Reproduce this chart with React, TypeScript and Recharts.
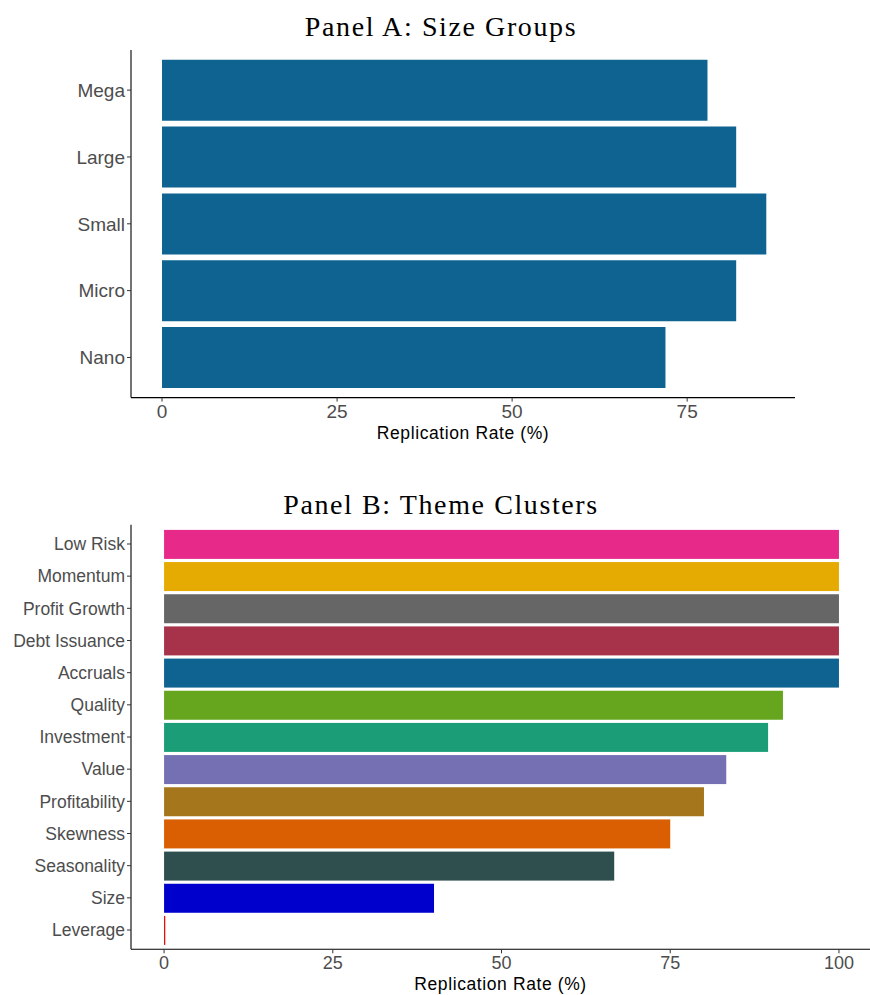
import React from 'react';
import { BarChart, Bar, XAxis, YAxis, Cell } from 'recharts';

// Panel A: replication rate by size group
const sizeGroups = ['Mega', 'Large', 'Small', 'Micro', 'Nano'];
const sizeRates = [77.9, 82.0, 86.3, 82.0, 71.9];

// Panel B: replication rate by theme cluster
const themes = [
  'Low Risk',
  'Momentum',
  'Profit Growth',
  'Debt Issuance',
  'Accruals',
  'Quality',
  'Investment',
  'Value',
  'Profitability',
  'Skewness',
  'Seasonality',
  'Size',
  'Leverage',
];
const themeRates = [100, 100, 100, 100, 100, 91.7, 89.5, 83.3, 80.0, 75.0, 66.7, 40.0, 0];
const themeColors = [
  '#E7298A',
  '#E6AB02',
  '#666666',
  '#A6334A',
  '#0E6390',
  '#66A61E',
  '#1B9E77',
  '#7570B3',
  '#A6761D',
  '#D95F02',
  '#2F4F4F',
  '#0000CD',
  '#E00000',
];

const sizeTicks = [0, 25, 50, 75];
const themeTicks = [0, 25, 50, 75, 100];

const sizeData = sizeGroups.map((group, i) => ({ group, rate: sizeRates[i] }));
const themeData = themes.map((theme, i) => ({ theme, rate: themeRates[i], color: themeColors[i] }));

const SANS = '"Liberation Sans", Arial, sans-serif';
const SERIF = '"Liberation Serif", "Times New Roman", serif';

// zero-valued bars still show as a hairline
const ThinBar = (props: any) => {
  const { x, y, width, height, fill } = props;
  const w = Math.max(width, 1.2);
  return <rect x={x} y={y} width={w} height={height} fill={fill} />;
};

const titleStyle: React.CSSProperties = {
  position: 'absolute',
  left: 0,
  width: 882,
  textAlign: 'center',
  fontFamily: SERIF,
  fontSize: 28,
  letterSpacing: 1.6,
  color: '#000',
  lineHeight: '32px',
};

const axisTitle = {
  value: 'Replication Rate (%)',
  position: 'insideBottom' as const,
  fill: '#000',
  fontSize: 17.5,
  fontFamily: SANS,
  letterSpacing: 0.6,
};

export default function App() {
  return (
    <div style={{ position: 'absolute', left: 0, top: 0, width: 870, height: 995, background: '#fff' }}>
      <div style={{ ...titleStyle, top: 11 }}>Panel A: Size Groups</div>
      <div style={{ position: 'absolute', left: 0, top: 0 }}>
        <BarChart
          width={870}
          height={460}
          data={sizeData}
          layout="vertical"
          margin={{ top: 50, right: 75, bottom: 0, left: 0 }}
        >
          <XAxis
            type="number"
            dataKey="rate"
            domain={[-4.43, 90.4]}
            ticks={sizeTicks}
            allowDataOverflow
            height={62.4}
            tickSize={4}
            tickMargin={3}
            axisLine={{ stroke: '#000', strokeWidth: 1.1 }}
            tickLine={{ stroke: '#333' }}
            tick={{ fill: '#4D4D4D', fontSize: 19, fontFamily: SANS }}
            label={{ ...axisTitle, offset: 21 }}
          />
          <YAxis
            type="category"
            dataKey="group"
            width={131}
            padding={{ top: 6.7, bottom: 6.7 }}
            tickSize={4}
            tickMargin={2}
            axisLine={{ stroke: '#000', strokeWidth: 1.1 }}
            tickLine={{ stroke: '#333' }}
            tick={{ fill: '#4D4D4D', fontSize: 19, fontFamily: SANS }}
          />
          <Bar dataKey="rate" fill="#0E6390" barSize={61} isAnimationActive={false} />
        </BarChart>
      </div>

      <div style={{ ...titleStyle, top: 489 }}>Panel B: Theme Clusters</div>
      <div style={{ position: 'absolute', left: 0, top: 470 }}>
        <BarChart
          width={870}
          height={525}
          data={themeData}
          layout="vertical"
          margin={{ top: 54.7, right: 0, bottom: 0, left: 0 }}
        >
          <XAxis
            type="number"
            dataKey="rate"
            domain={[-4.9, 104.6]}
            ticks={themeTicks}
            allowDataOverflow
            height={45.7}
            tickSize={4}
            tickMargin={3}
            axisLine={{ stroke: '#000', strokeWidth: 1.1 }}
            tickLine={{ stroke: '#333' }}
            tick={{ fill: '#4D4D4D', fontSize: 18, fontFamily: SANS }}
            label={{ ...axisTitle, offset: 5 }}
          />
          <YAxis
            type="category"
            dataKey="theme"
            width={131}
            padding={{ top: 3.2, bottom: 3.2 }}
            tickSize={4}
            tickMargin={2}
            axisLine={{ stroke: '#000', strokeWidth: 1.1 }}
            tickLine={{ stroke: '#333' }}
            tick={{ fill: '#4D4D4D', fontSize: 17.5, fontFamily: SANS }}
            interval={0}
          />
          <Bar dataKey="rate" barSize={29} shape={ThinBar} isAnimationActive={false}>
            {themeData.map((d) => (
              <Cell key={d.theme} fill={d.color} />
            ))}
          </Bar>
        </BarChart>
      </div>
    </div>
  );
}
